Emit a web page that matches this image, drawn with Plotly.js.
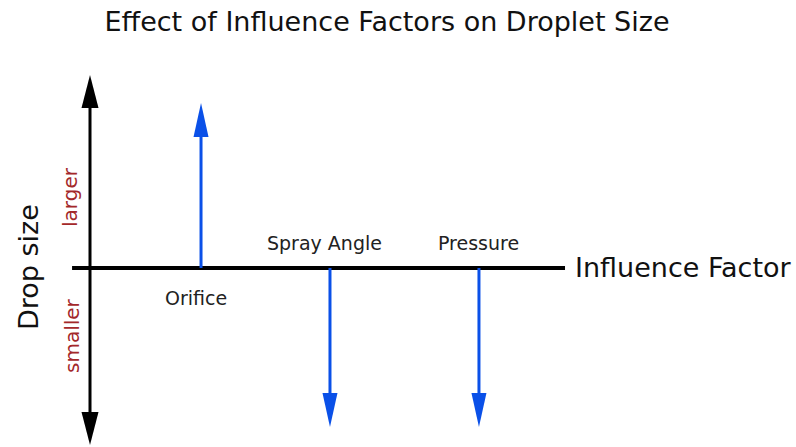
<!DOCTYPE html>
<html><head><meta charset="utf-8">
<script src="https://cdn.plot.ly/plotly-3.0.1.min.js"></script>
<style>html,body{margin:0;padding:0;background:#fff}#chart{width:796px;height:447px}</style>
</head><body><div id="chart"></div>
<script>
// ---- data ----
const factors = ['Orifice', 'Spray Angle', 'Pressure'];
const factorPos = [0.854, 1.846, 2.992];
const effect = [1.0, -0.964, -0.964];
const sizeLabels = ['larger', 'smaller'];
const axisTitleX = 'Influence Factor';
const axisTitleY = 'Drop size';
const chartTitle = 'Effect of Influence Factors on Droplet Size';

// ---- layout helpers ----
const W = 796, H = 447;
const xRange = [-90 / 130, (W - 90) / 130];
const yRange = [-(H - 268) / 165, 268 / 165];
const pxX = W / (xRange[1] - xRange[0]);
const pxY = H / (yRange[1] - yRange[0]);
const BLUE = '#0a50e8', RED = '#a3282a', FONT = 'DejaVu Sans, sans-serif';

function head(x, tip, dir, len, wid, color) {
  const bx = wid / 2 / pxX, by = len / pxY, base = tip - dir * by;
  return {type: 'scatter', mode: 'lines', x: [x - bx, x, x + bx, x - bx], y: [base, tip, base, base],
    fill: 'toself', fillcolor: color, line: {color: color, width: 0}, hoverinfo: 'skip', showlegend: false};
}
function shaft(x0, y0, x1, y1, color, w) {
  return {type: 'scatter', mode: 'lines', x: [x0, x1], y: [y0, y1], line: {color: color, width: w},
    hoverinfo: 'skip', showlegend: false};
}

const traces = [];
// axes (decoration)
const axTop = 1.17, axBot = -1.073, axHead = 33 / pxY;
traces.push(shaft(-0.138, 0, 3.654, 0, '#000', 4));
traces.push(shaft(0, axBot + axHead * 0.8, 0, axTop - axHead * 0.8, '#000', 3));
traces.push(head(0, axTop, 1, 33, 17, '#000'));
traces.push(head(0, axBot, -1, 33, 17, '#000'));
// factor arrows
const annotations = [];
factors.forEach((f, i) => {
  const dir = effect[i] > 0 ? 1 : -1;
  const hl = 34 / pxY;
  traces.push(shaft(factorPos[i], 0, factorPos[i], effect[i] - dir * hl * 0.8, BLUE, 3));
  traces.push(head(factorPos[i], effect[i], dir, 34, 15, BLUE));
  annotations.push({x: factorPos[i], y: 0, xref: 'x', yref: 'y', text: f, showarrow: false,
    xshift: i === 2 ? 0 : -5, yshift: dir > 0 ? -30 : 25, font: {family: FONT, size: 19, color: '#222'}});
});
annotations.push({x: 573 / W, y: 1 - 267 / H, xref: 'paper', yref: 'paper', text: axisTitleX, showarrow: false,
  xanchor: 'left', yanchor: 'middle', font: {family: FONT, size: 27, color: '#111'}});
annotations.push({x: 28 / W, y: 1 - 267 / H, xref: 'paper', yref: 'paper', text: axisTitleY, showarrow: false,
  textangle: -90, xanchor: 'center', yanchor: 'middle', font: {family: FONT, size: 27, color: '#111'}});
annotations.push({x: 70 / W, y: 1 - 197 / H, xref: 'paper', yref: 'paper', text: sizeLabels[0], showarrow: false,
  textangle: -90, xanchor: 'center', yanchor: 'middle', font: {family: FONT, size: 20, color: RED}});
annotations.push({x: 72 / W, y: 1 - 336 / H, xref: 'paper', yref: 'paper', text: sizeLabels[1], showarrow: false,
  textangle: -90, xanchor: 'center', yanchor: 'middle', font: {family: FONT, size: 20, color: RED}});

const layout = {
  width: W, height: H, margin: {l: 0, r: 0, t: 0, b: 0},
  paper_bgcolor: '#fff', plot_bgcolor: '#fff', showlegend: false,
  title: {text: chartTitle, x: 387 / W, xanchor: 'center', y: 1 - 22 / H, yanchor: 'middle', yref: 'container',
    font: {family: FONT, size: 27, color: '#111'}},
  xaxis: {range: xRange, visible: false, fixedrange: true},
  yaxis: {range: yRange, visible: false, fixedrange: true},
  annotations: annotations
};
Plotly.newPlot('chart', traces, layout, {displayModeBar: false, staticPlot: true});
</script></body></html>
